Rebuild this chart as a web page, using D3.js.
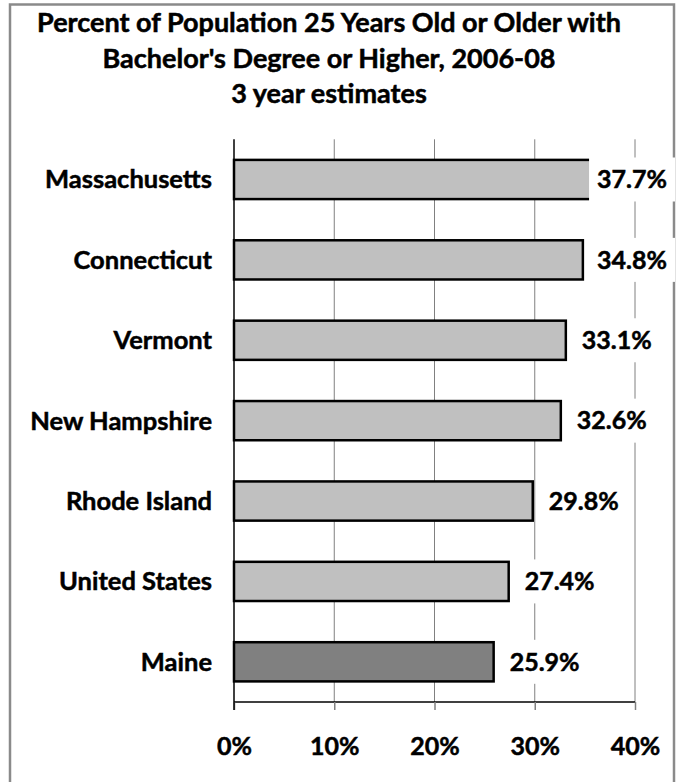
<!DOCTYPE html>
<html>
<head>
<meta charset="utf-8">
<script src="https://cdn.jsdelivr.net/npm/d3@7"></script>
<style>
  body { margin: 0; background: #fff; }
  text { font-family: Lato, 'Open Sans', sans-serif; font-weight: 700; fill: #000; stroke: #000; stroke-width: 0.5px; }
</style>
</head>
<body>
<div id="chart"></div>
<script>
// chart data
var states = ['Massachusetts', 'Connecticut', 'Vermont', 'New Hampshire', 'Rhode Island', 'United States', 'Maine'];
var percents = [37.7, 34.8, 33.1, 32.6, 29.8, 27.4, 25.9];
var xTicks = [0, 10, 20, 30, 40];
var titleLines = ['Percent of Population 25 Years Old or Older with', "Bachelor's Degree or Higher, 2006-08", '3 year estimates'];
var highlight = 'Maine';

// svg area
var svgWidth = 681;
var svgHeight = 782;

// plot area inside the frame
var plot = { left: 234, right: 635, top: 139.3, bottom: 702 };

var svg = d3.select('#chart')
    .append('svg')
    .attr('width', svgWidth)
    .attr('height', svgHeight);

// outer frame
svg.append('rect')
    .attr('x', 10)
    .attr('y', 4.5)
    .attr('width', 664)
    .attr('height', 800)
    .attr('fill', 'none')
    .attr('stroke', '#8a8a8a')
    .attr('stroke-width', 2.5);

// title
svg.append('g').selectAll('text')
    .data(titleLines)
    .enter()
    .append('text')
    .attr('x', 329)
    .attr('y', (d, i) => 32 + i * 35.5)
    .attr('text-anchor', 'middle')
    .style('font-size', '27px')
    .text(d => d);

// scales
var xScale = d3.scaleLinear()
    .domain([0, 40])
    .range([plot.left, plot.right]);

var yScale = d3.scaleBand()
    .domain(states)
    .range([plot.top, plot.bottom])
    .paddingInner(0.5)
    .paddingOuter(0.25);

// vertical gridlines
svg.append('g').selectAll('line')
    .data(xTicks.slice(1))
    .enter()
    .append('line')
    .attr('x1', d => xScale(d))
    .attr('x2', d => xScale(d))
    .attr('y1', plot.top)
    .attr('y2', plot.bottom)
    .attr('stroke', '#808080')
    .attr('stroke-width', 1);

// bars
svg.append('g').selectAll('rect')
    .data(states)
    .enter()
    .append('rect')
    .attr('x', xScale(0))
    .attr('y', d => yScale(d) + 0.5)
    .attr('width', (d, i) => xScale(percents[i]) - xScale(0))
    .attr('height', yScale.bandwidth() - 1)
    .attr('fill', d => d === highlight ? '#808080' : '#c0c0c0')
    .attr('stroke', '#000')
    .attr('stroke-width', 2.5);

// bottom axis
var bottomAxis = d3.axisBottom(xScale)
    .tickValues(xTicks)
    .tickSize(8)
    .tickFormat(d => d + '%');

var xAxis = svg.append('g')
    .attr('transform', `translate(0, ${plot.bottom})`)
    .call(bottomAxis);
xAxis.select('.domain').attr('stroke', '#000').attr('stroke-width', 1.5).attr('d', `M${plot.left},0H${plot.right}`);
xAxis.selectAll('.tick line').attr('stroke', '#808080').attr('stroke-width', 1.5);
xAxis.selectAll('.tick text')
    .attr('y', 53)
    .attr('dy', 0)
    .style('font-size', '25px')
    .attr('font-family', null);

// left axis line
svg.append('line')
    .attr('x1', plot.left)
    .attr('x2', plot.left)
    .attr('y1', plot.top)
    .attr('y2', plot.bottom + 8)
    .attr('stroke', '#000')
    .attr('stroke-width', 1.5);

// category labels
svg.append('g').selectAll('text')
    .data(states)
    .enter()
    .append('text')
    .attr('x', 212)
    .attr('y', d => yScale(d) + yScale.bandwidth() / 2)
    .attr('dy', '0.35em')
    .attr('text-anchor', 'end')
    .style('font-size', '25.5px')
    .text(d => d);

// value labels with white box
var labelGroup = svg.append('g').selectAll('g')
    .data(states)
    .enter()
    .append('g');

var boxes = labelGroup.append('rect').attr('fill', '#fff');

var labels = labelGroup.append('text')
    .attr('y', d => yScale(d) + yScale.bandwidth() / 2)
    .attr('dy', '0.35em')
    .style('font-size', '25px')
    .text((d, i) => percents[i].toFixed(1) + '%');

labels.each(function(d, i) {
    var w = this.getComputedTextLength();
    var x = Math.min(xScale(percents[i]) + 16, 667 - w);
    d3.select(this).attr('x', x);
    d3.select(boxes.nodes()[i])
        .attr('x', x - 8)
        .attr('y', yScale(d) + yScale.bandwidth() / 2 - 22)
        .attr('width', w + 16)
        .attr('height', 44);
});
</script>
</body>
</html>
